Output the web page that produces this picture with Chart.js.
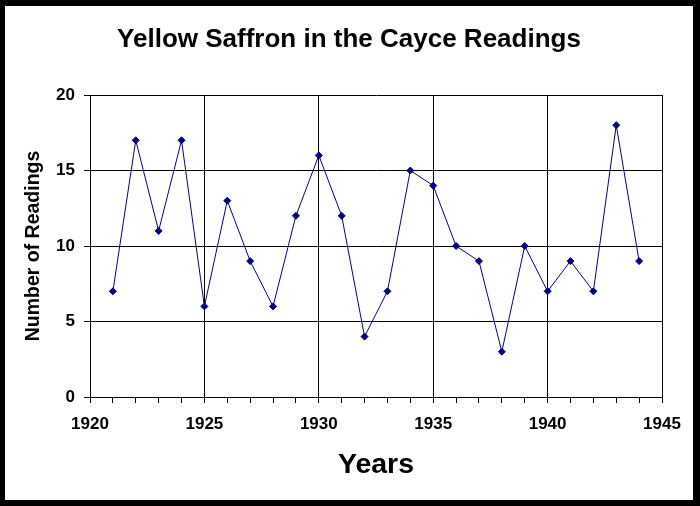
<!DOCTYPE html>
<html>
<head>
<meta charset="utf-8">
<script src="https://cdn.jsdelivr.net/npm/chart.js@4"></script>
<style>
  html, body { margin: 0; padding: 0; background: #000; }
  #wrap {
    width: 688px; height: 494px;
    border-style: solid; border-color: #000;
    border-width: 6px 7px 6px 5px;
    background: #fff;
  }
  canvas { display: block; }
</style>
</head>
<body>
<div id="wrap"><canvas id="chart" width="688" height="494"></canvas></div>
<script>
const years = [1921, 1922, 1923, 1924, 1925, 1926, 1927, 1928, 1929, 1930, 1931, 1932,
               1933, 1934, 1935, 1936, 1937, 1938, 1939, 1940, 1941, 1942, 1943, 1944];
const readings = [7, 17, 11, 17, 6, 13, 9, 6, 12, 16, 12, 4,
                  7, 15, 14, 10, 9, 3, 10, 7, 9, 7, 18, 9];
const xTicks = [1920, 1925, 1930, 1935, 1940, 1945];
const yTicks = [0, 5, 10, 15, 20];

const font = "Arial, 'Liberation Sans', sans-serif";

new Chart(document.getElementById("chart"), {
  type: "line",
  data: {
    datasets: [{
      label: "Readings",
      data: years.map((y, i) => ({ x: y, y: readings[i] })),
      borderColor: "#000080",
      backgroundColor: "#000080",
      borderWidth: 1,
      pointStyle: "rectRot",
      pointRadius: 3.5,
      pointHoverRadius: 3.5,
      tension: 0
    }]
  },
  options: {
    responsive: false,
    animation: false,
    devicePixelRatio: 1,
    layout: { padding: 0 },
    plugins: {
      legend: { display: false },
      tooltip: { enabled: false },
      title: {
        display: true,
        text: "Yellow Saffron in the Cayce Readings",
        color: "#000",
        font: { family: font, size: 26, weight: "bold" },
        padding: { top: 18, bottom: 39.8 }
      }
    },
    scales: {
      x: {
        type: "linear",
        min: xTicks[0],
        max: xTicks[xTicks.length - 1],
        afterBuildTicks: (s) => {
          s.ticks = [];
          for (let v = xTicks[0]; v <= xTicks[xTicks.length - 1]; v++) s.ticks.push({ value: v });
        },
        afterFit: (s) => { s.height = 103; },
        ticks: {
          autoSkip: false,
          maxRotation: 0,
          padding: 10.8,
          color: "#000",
          font: { family: font, size: 17, weight: "bold" },
          callback: (v) => xTicks.includes(v) ? String(v) : ""
        },
        grid: {
          color: (c) => c.tick && xTicks.includes(c.tick.value) ? "#000" : "rgba(0,0,0,0)",
          tickColor: "#000",
          tickLength: 6,
          lineWidth: 1
        },
        border: { color: "#000", width: 1 },
        title: {
          display: true,
          text: "Years",
          color: "#000",
          font: { family: font, size: 28.5, weight: "bold" },
          padding: { top: 0, bottom: 17.9 }
        }
      },
      y: {
        min: yTicks[0],
        max: yTicks[yTicks.length - 1],
        afterBuildTicks: (s) => { s.ticks = yTicks.map(v => ({ value: v })); },
        afterFit: (s) => { s.width = 85; },
        ticks: {
          padding: 9,
          color: "#000",
          font: { family: font, size: 17, weight: "bold" }
        },
        grid: { color: "#000", tickColor: "#000", tickLength: 6, lineWidth: 1 },
        border: { color: "#000", width: 1 },
        title: {
          display: true,
          text: "Number of Readings",
          color: "#000",
          font: { family: font, size: 19.5, weight: "bold" },
          padding: { top: 17.3, bottom: 0 }
        }
      },
      // empty right-hand strip so the title centres on the whole picture
      yRight: {
        position: "right",
        min: yTicks[0],
        max: yTicks[yTicks.length - 1],
        afterFit: (s) => { s.width = 31; },
        ticks: { display: false },
        grid: { drawOnChartArea: false, drawTicks: false },
        border: { display: false }
      }
    }
  }
});
</script>
</body>
</html>
